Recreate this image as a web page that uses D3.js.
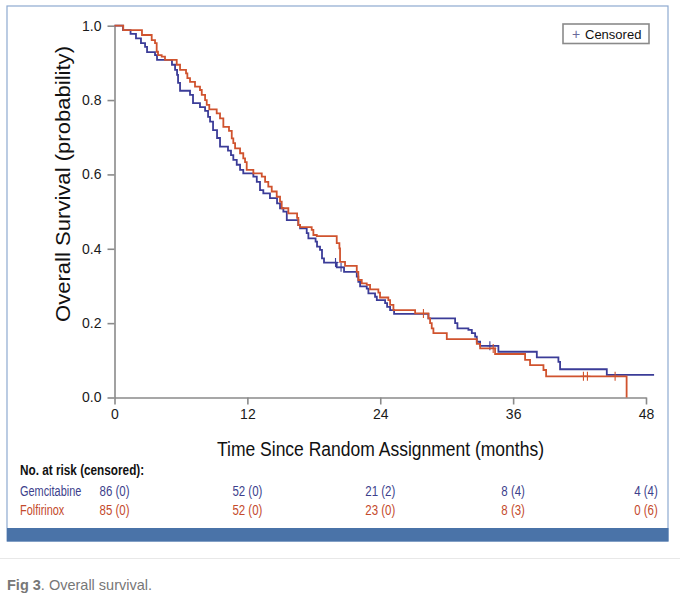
<!DOCTYPE html>
<html><head><meta charset="utf-8">
<script src="https://cdn.jsdelivr.net/npm/d3@7"></script>
<style>
body{margin:0;background:#fff;}
svg{display:block;font-family:"Liberation Sans",Arial,sans-serif;}
</style></head>
<body><svg id="c" width="680" height="604"></svg>
<script>
// Gemcitabine: [months, survival] after each step
const gemcitabine = [[0,1],[0.77,0.988],[1.45,0.978],[1.94,0.966],[2.39,0.953],[2.76,0.943],[2.94,0.929],[3.66,0.921],[3.84,0.908],[5.19,0.895],[5.47,0.881],[5.65,0.868],[5.74,0.846],[5.92,0.825],[6.82,0.814],[7.09,0.792],[7.72,0.781],[8.18,0.771],[8.45,0.755],[8.63,0.742],[8.90,0.719],[9.26,0.698],[9.53,0.675],[10.25,0.664],[10.52,0.652],[10.73,0.639],[11.04,0.626],[11.34,0.612],[11.63,0.603],[12.54,0.594],[12.85,0.580],[13.14,0.558],[13.44,0.549],[14.04,0.536],[14.68,0.522],[14.95,0.509],[15.25,0.500],[15.56,0.477],[16.60,0.464],[16.76,0.455],[17.36,0.442],[17.51,0.428],[18.16,0.419],[18.29,0.406],[18.56,0.397],[18.74,0.374],[18.92,0.363],[20.07,0.350],[20.73,0.338],[21.88,0.325],[22.02,0.311],[22.18,0.299],[22.78,0.293],[22.93,0.280],[23.53,0.271],[23.69,0.262],[24.44,0.254],[24.62,0.244],[24.89,0.235],[25.25,0.225],[28.35,0.213],[30.76,0.200],[30.97,0.186],[31.96,0.182],[32.27,0.173],[32.57,0.164],[32.72,0.150],[33.02,0.139],[34.67,0.123],[38.14,0.108],[40.09,0.096],[40.24,0.076],[44.46,0.061],[48.73,0.061]];
const gemcitabineCensored = [19.96, 20.46, 33.9];
// Folfirinox
const folfirinox = [[0,1],[0.79,0.988],[2.48,0.975],[3.36,0.961],[3.66,0.953],[3.81,0.930],[3.93,0.921],[4.26,0.917],[4.56,0.908],[5.62,0.895],[5.92,0.881],[6.46,0.872],[6.58,0.859],[6.82,0.849],[7.27,0.836],[7.72,0.827],[7.88,0.814],[8.18,0.800],[8.33,0.787],[8.56,0.775],[9.23,0.764],[9.53,0.751],[9.83,0.728],[10.34,0.717],[10.59,0.697],[10.73,0.684],[10.89,0.670],[11.34,0.657],[11.63,0.643],[11.79,0.633],[11.94,0.612],[12.54,0.603],[13.30,0.594],[13.60,0.580],[13.89,0.567],[14.20,0.554],[14.65,0.540],[14.95,0.527],[15.10,0.509],[15.70,0.495],[16.49,0.483],[16.60,0.464],[16.76,0.458],[17.81,0.451],[17.96,0.437],[18.27,0.434],[20.07,0.415],[20.31,0.401],[20.37,0.365],[20.82,0.354],[21.88,0.338],[22.02,0.316],[22.33,0.307],[22.78,0.303],[23.08,0.291],[23.83,0.282],[23.98,0.269],[24.73,0.262],[24.89,0.249],[25.19,0.235],[27.15,0.226],[28.35,0.213],[28.50,0.200],[28.65,0.186],[28.80,0.173],[30.01,0.157],[32.72,0.144],[33.02,0.132],[34.37,0.117],[37.08,0.101],[37.53,0.087],[38.74,0.074],[38.98,0.057],[46.25,0]];
const folfirinoxCensored = [27.9, 34.2, 42.35, 42.71, 45.21];

const xTicks = [0, 12, 24, 36, 48];
const yTicks = [0, 0.2, 0.4, 0.6, 0.8, 1.0];
const groups = ["Gemcitabine", "Folfirinox"];
const atRisk = {
  Gemcitabine: ["86 (0)", "52 (0)", "21 (2)", "8 (4)", "4 (4)"],
  Folfirinox: ["85 (0)", "52 (0)", "23 (0)", "8 (3)", "0 (6)"]
};
const colors = {Gemcitabine: "#3b3c98", Folfirinox: "#d0532e"};
const textColors = {Gemcitabine: "#3d3f8c", Folfirinox: "#c44a2c"};

const svg = d3.select("#c");
const x = d3.scaleLinear().domain([0, 48]).range([114.5, 646]);
const y = d3.scaleLinear().domain([0, 1]).range([397.5, 25.7]);

// condense text horizontally (reference uses a condensed face)
function condense(sel, f) {
  sel.each(function() {
    const w = this.getComputedTextLength();
    d3.select(this).attr("textLength", w * f).attr("lengthAdjust", "spacingAndGlyphs");
  });
}

// frame
svg.append("rect").attr("x", 7).attr("y", 6).attr("width", 661).attr("height", 535)
  .attr("fill", "none").attr("stroke", "#8eaad0").attr("stroke-width", 1.2);
svg.append("rect").attr("x", 7).attr("y", 528).attr("width", 661.5).attr("height", 13.5)
  .attr("fill", "#4a73a8");
svg.append("line").attr("x1", 0).attr("x2", 680).attr("y1", 558.5).attr("y2", 558.5)
  .attr("stroke", "#e8e8e8").attr("stroke-width", 1);

// axes
const axisColor = "#8a8a8a";
const xa = svg.append("g").attr("transform", `translate(0,${y(0)})`)
  .call(d3.axisBottom(x).tickValues(xTicks).tickSize(7).tickSizeOuter(0).tickPadding(5).tickFormat(d3.format("d")));
const ya = svg.append("g").attr("transform", `translate(${x(0)},0)`)
  .call(d3.axisLeft(y).tickValues(yTicks).tickSize(7).tickSizeOuter(0).tickPadding(6).tickFormat(d3.format(".1f")));
[xa, ya].forEach(a => {
  a.selectAll("path.domain").attr("stroke", axisColor).attr("stroke-width", 1.6);
  a.selectAll(".tick line").attr("stroke", axisColor).attr("stroke-width", 1.6);
  a.selectAll(".tick text").attr("fill", "#1a1a1a").style("font-size", "14px");
});

// curves
const line = d3.line().x(d => x(d[0])).y(d => y(d[1])).curve(d3.curveStepAfter);
const series = {Gemcitabine: gemcitabine, Folfirinox: folfirinox};
const cens = {Gemcitabine: gemcitabineCensored, Folfirinox: folfirinoxCensored};
function survAt(data, t) {
  let s = 1;
  for (const d of data) { if (d[0] <= t) s = d[1]; }
  return s;
}
groups.forEach(g => {
  svg.append("path").datum(series[g]).attr("d", line)
    .attr("fill", "none").attr("stroke", colors[g]).attr("stroke-width", 1.8);
  svg.append("g").selectAll("path").data(cens[g]).join("path")
    .attr("d", t => { const cx = x(t), cy = y(survAt(series[g], t)); return `M${cx},${cy-4.5}V${cy+4.5}M${cx-3},${cy}H${cx+3}`; })
    .attr("stroke", colors[g]).attr("stroke-width", 1.1).attr("fill", "none");
});

// legend
svg.append("rect").attr("x", 563).attr("y", 24).attr("width", 86).attr("height", 19.5)
  .attr("fill", "#fff").attr("stroke", "#8a8a8a").attr("stroke-width", 1.6);
svg.append("text").attr("x", 576).attr("y", 38.5).attr("text-anchor", "middle")
  .attr("fill", "#6a6a9a").style("font-size", "14px").text("+");
svg.append("text").attr("x", 585).attr("y", 38.5).attr("fill", "#111")
  .style("font-size", "13px").text("Censored");

// axis titles
svg.append("text").attr("x", 380.5).attr("y", 456).attr("text-anchor", "middle")
  .attr("fill", "#111").style("font-size", "20px")
  .attr("textLength", 327).attr("lengthAdjust", "spacingAndGlyphs")
  .text("Time Since Random Assignment (months)");
svg.append("text").attr("transform", "translate(70,184) rotate(-90)").attr("text-anchor", "middle")
  .attr("fill", "#111").style("font-size", "21px")
  .attr("textLength", 276).attr("lengthAdjust", "spacingAndGlyphs")
  .text("Overall Survival (probability)");

// number at risk
svg.append("text").attr("x", 20).attr("y", 475).attr("fill", "#111")
  .style("font-size", "14px").style("font-weight", "bold")
  .text("No. at risk (censored):").call(condense, 0.84);
groups.forEach((g, i) => {
  const yy = 495.5 + i * 19;
  svg.append("text").attr("x", 20).attr("y", yy).attr("fill", textColors[g])
    .style("font-size", "14px").text(g).call(condense, 0.78);
  svg.append("g").selectAll("text").data(xTicks).join("text")
    .attr("x", d => x(d)).attr("y", yy).attr("text-anchor", "middle")
    .attr("fill", textColors[g]).style("font-size", "14px")
    .text((d, j) => atRisk[g][j]).call(condense, 0.82);
});

// caption
const cap = svg.append("text").attr("x", 7).attr("y", 590).attr("fill", "#777")
  .style("font-size", "14.5px");
cap.append("tspan").style("font-weight", "bold").text("Fig 3");
cap.append("tspan").text(". Overall survival.");
</script></body></html>
